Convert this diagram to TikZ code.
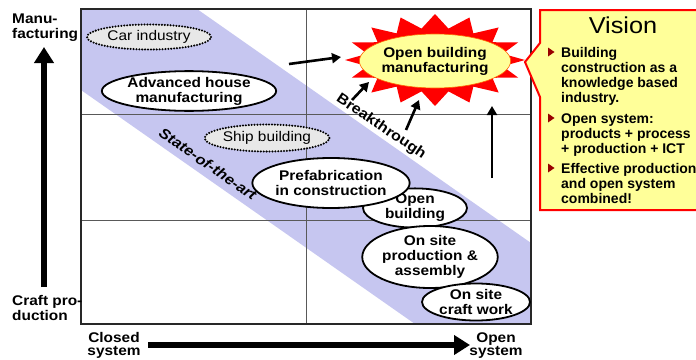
\documentclass[tikz,border=0pt]{standalone}
\usepackage{fontspec}
\setmainfont{Liberation Sans}
\newfontfamily\lblfont{Liberation Sans}[FakeStretch=1.1]
\usetikzlibrary{shapes.geometric,arrows.meta}
\definecolor{bandcol}{RGB}{198,198,240}
\definecolor{lightyel}{RGB}{255,255,153}
\definecolor{bullred}{RGB}{153,0,0}
\definecolor{dotgray}{RGB}{232,232,232}
\definecolor{framecol}{RGB}{40,40,40}
\tikzset{
  lbl/.style={font=\lblfont\bfseries\fontsize{14}{15}\selectfont, align=center},
  solidell/.style={ellipse, draw=black, line width=1.8pt, fill=white, inner sep=0pt, lbl},
  dotell/.style={ellipse, draw=black, line width=2.3pt, line cap=round, dash pattern=on 0pt off 2.9pt,
     fill=dotgray, inner sep=0pt, align=center, font=\lblfont\fontsize{14}{15}\selectfont},
  thinarrow/.style={line width=2.6pt, -{Triangle[length=9pt,width=10pt]}},
  axisarrow/.style={line width=6pt, -{Triangle[length=16pt,width=19pt]}},
  axlbl/.style={font=\lblfont\bfseries\fontsize{14}{15}\selectfont, inner sep=0pt},
  vistxt/.style={font=\bfseries\fontsize{14}{15}\selectfont, inner sep=0pt, anchor=base west},
  rottxt/.style={font=\lblfont\bfseries\fontsize{14.5}{15}\selectfont, inner sep=0pt},
}
\begin{document}
\begin{tikzpicture}[x=1pt,y=-1pt]
\clip (0,0) rectangle (696,359);
\fill[white] (0,0) rectangle (696,359);
% band
\fill[bandcol] (81,9) -- (197,9) -- (531,243) -- (531,324) -- (415,324) -- (81,90) -- cycle;
% grid
\draw[gray!70!black, line width=0.8pt] (306,9) -- (306,324);
\draw[gray!70!black, line width=0.8pt] (81,114) -- (531,114);
\draw[gray!70!black, line width=0.8pt] (81,220) -- (531,220);
% frame
\draw[framecol, line width=2.2pt] (81,9) rectangle (531,324);
% ellipses
\node[dotell, minimum width=124, minimum height=25] (car) at (149,37) {Car industry};
\node[solidell, minimum width=168, minimum height=38] (adv) at (189,91) {Advanced house\\manufacturing};
\node[dotell, minimum width=111, minimum height=27] (ship) at (267,138) {Ship building};
\node[solidell, minimum width=104, minimum height=36] (openb) at (415,208) {Open\\building};
\node[solidell, minimum width=134, minimum height=50] (prefab) at (331,183) {Prefabrication\\in construction};
\node[solidell, minimum width=135, minimum height=62] (onsite) at (430,257) {On site\\production \&\\assembly};
\node[solidell, minimum width=108, minimum height=37] (craft) at (476,302) {On site\\craft work};
% star
\fill[red] plot[samples at={0,...,31}, variable=\k]
  ({435+(mod(\k,2)==0?90:69)*cos(\k*11.25)}, {60+(mod(\k,2)==0?46:32)*sin(\k*11.25)}) -- cycle;
\node[ellipse, draw=orange!80!red, line width=0.6pt, fill=lightyel, minimum width=134, minimum height=54,
  inner sep=0pt, lbl] (obm) at (435,61) {Open building\\manufacturing};
% arrows
\coordinate (a1s) at (289,64); \coordinate (a1e) at (341,57);
\coordinate (a2s) at (352,100); \coordinate (a2e) at (369,82);
\coordinate (a3s) at (406,130); \coordinate (a3e) at (419,100);
\coordinate (a4s) at (492,178); \coordinate (a4e) at (492,106);
\draw[thinarrow] (a1s) -- (a1e);
\draw[thinarrow] (a2s) -- (a2e);
\draw[thinarrow] (a3s) -- (a3e);
\draw[thinarrow] (a4s) -- (a4e);
% rotated labels
\node[rottxt, rotate=-34.5] (soa) at (208,164) {\itshape State-of-the-art};
\node[rottxt, rotate=-34] (brk) at (381,127) {Breakthrough};
% axes
\coordinate (vs) at (44,287); \coordinate (ve) at (44,47);
\coordinate (hs) at (148,345); \coordinate (he) at (470,345);
\draw[axisarrow] (vs) -- (ve);
\draw[axisarrow] (hs) -- (he);
\node[axlbl, anchor=base west] (m1) at (12,23) {Manu-};
\node[axlbl, anchor=base west] (m2) at (12,38) {facturing};
\node[axlbl, anchor=base west] (c1) at (12,305) {Craft pro-};
\node[axlbl, anchor=base west] (c2) at (12,320) {duction};
\node[axlbl, anchor=base] (cl1) at (114,342) {Closed};
\node[axlbl, anchor=base] (cl2) at (114,355) {system};
\node[axlbl, anchor=base] (op1) at (496,342) {Open};
\node[axlbl, anchor=base] (op2) at (496,355) {system};
% vision box
\filldraw[fill=lightyel, draw=red, line width=2pt]
  (540,10) -- (720,10) -- (720,210) -- (540,210) -- (540,97) -- (525,62) -- (540,43) -- cycle;
\node[font=\lblfont\fontsize{23}{24}\selectfont, inner sep=0pt, anchor=base] (vis) at (623,33) {Vision};
\foreach \yy in {52,118,168} {\fill[bullred] (548,\yy-4.5) -- (554.5,\yy) -- (548,\yy+4.5) -- cycle;}
\foreach \t/\yy [count=\i] in {Building/57, construction as a/72, knowledge based/87, industry./102,
   Open system:/123, products + process/138, + production + ICT/153,
   Effective production/173, and open system/188, combined!/203}
  {\node[vistxt] (v\i) at (561,\yy) {\t};}
\end{tikzpicture}
\end{document}
